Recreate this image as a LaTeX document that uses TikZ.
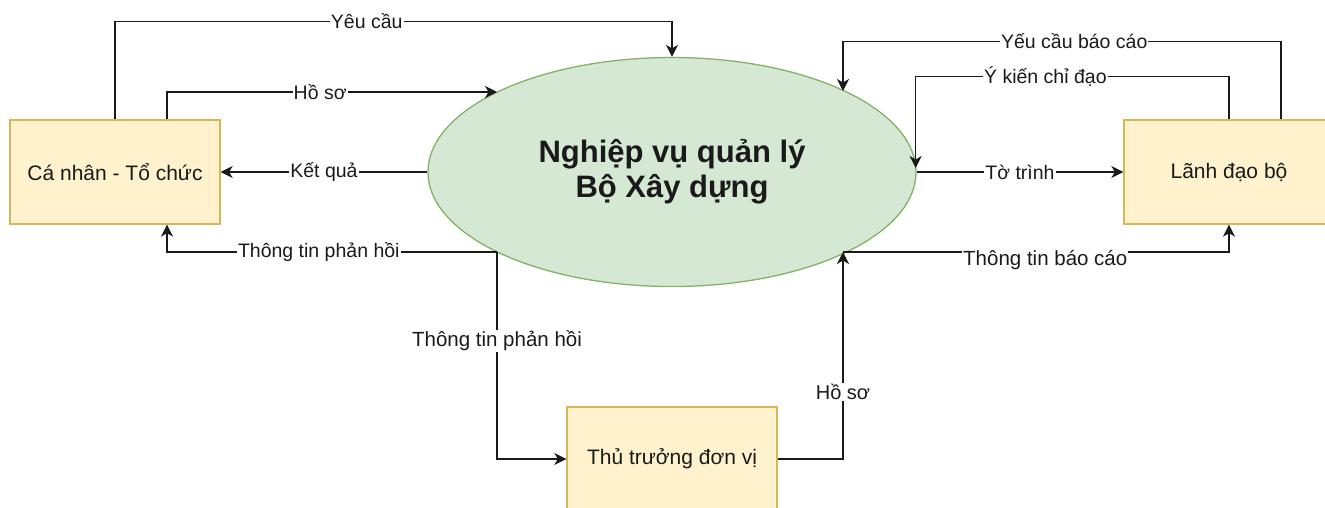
\documentclass[tikz,border=0pt]{standalone}
\usepackage{fontspec}
\setmainfont{Liberation Sans}
\usetikzlibrary{arrows.meta,shapes.geometric,calc}

\definecolor{boxfill}{HTML}{FFF2CC}
\definecolor{boxline}{HTML}{D6B656}
\definecolor{ellfill}{HTML}{D5E8D4}
\definecolor{ellline}{HTML}{82B366}
\definecolor{ink}{HTML}{1A1A1A}

\tikzset{
  actor/.style={draw=boxline, fill=boxfill, line width=1.3pt,
    minimum width=210pt, minimum height=104pt, inner sep=0pt,
    text=ink, font=\fontsize{21}{24}\selectfont},
  process/.style={ellipse, draw=ellline, fill=ellfill, line width=1.3pt,
    minimum width=488pt, minimum height=229pt, inner sep=0pt,
    align=center, text=ink, font=\fontsize{31}{35}\selectfont\bfseries},
  flow/.style={draw=ink, line width=1.6pt,
    -{Stealth[length=12pt,width=12pt,inset=3.5pt]}},
  lbl/.style={fill=white, inner sep=1pt, text=ink,
    font=\fontsize{19.5}{22}\selectfont},
}

\begin{document}
\begin{tikzpicture}[x=1pt,y=-1pt]
  \useasboundingbox[fill=white] (0,0) rectangle (1325,507);

  % entities and the central process
  \node[process] (ell) at (672,172) {Nghiệp vụ quản lý\\Bộ Xây dựng};
  \node[actor] (cn) at (115,172) {Cá nhân - Tổ chức};
  \node[actor] (ld) at (1229,172) {Lãnh đạo bộ};
  \node[actor] (tt) at (672,459) {Thủ trưởng đơn vị};

  % attachment points on the ellipse border
  \coordinate (hsIn)  at ($(ell.center)+(-175,-80)$);
  \coordinate (fbOut) at ($(ell.center)+(-175,80)$);
  \coordinate (ycIn)  at ($(ell.center)+(171,-81)$);
  \coordinate (tbOut) at ($(ell.center)+(171,80)$);
  \coordinate (ykIn)  at ($(ell.east)+(-1,-4)$);

  % citizen / organisation flows
  \draw[flow] (cn.north) -- ++(0,-98) -| (ell.north)
    node[lbl,pos=0.226] {Yêu cầu};
  \draw[flow] ($(cn.north)+(52,0)$) |- (hsIn)
    node[lbl,pos=0.732] {Hồ sơ};
  \draw[flow] (ell.west) -- (cn.east)
    node[lbl,pos=0.5] {Kết quả};
  \draw[flow] (fbOut) -| ($(cn.south)+(52,0)$)
    node[lbl,pos=0.27] {Thông tin phản hồi};

  % unit head flows
  \draw[flow] (fbOut) |- (tt.west)
    node[lbl,pos=0.215,font=\fontsize{20.5}{23}\selectfont] {Thông tin phản hồi};
  \draw[flow] (tt.east) -| (tbOut)
    node[lbl,pos=0.662,font=\fontsize{20}{23}\selectfont] {Hồ sơ};

  % ministry leadership flows
  \draw[flow] (tbOut) -| (ld.south)
    node[lbl,pos=0.262,yshift=-8pt,font=\fontsize{20.5}{23}\selectfont] {Thông tin báo cáo};
  \draw[flow] (ell.east) -- (ld.west)
    node[lbl,pos=0.5] {Tờ trình};
  \draw[flow] (ld.north) -- ++(0,-43) -| (ykIn)
    node[lbl,pos=0.293] {Ý kiến chỉ đạo};
  \draw[flow] ($(ld.north)+(52,0)$) -- ++(0,-78) -| (ycIn)
    node[lbl,pos=0.236] {Yếu cầu báo cáo};
\end{tikzpicture}
\end{document}
